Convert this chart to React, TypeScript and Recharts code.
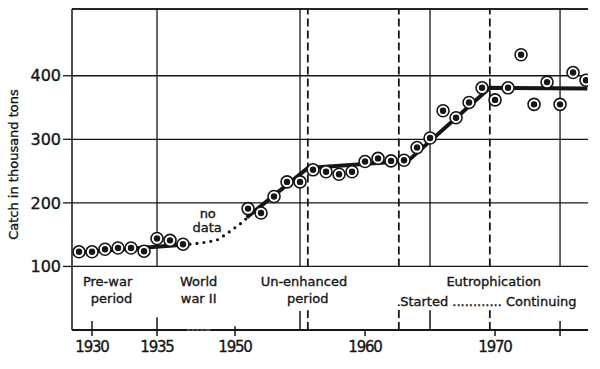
import {
  ComposedChart,
  Line,
  Scatter,
  XAxis,
  YAxis,
  CartesianGrid,
  ReferenceLine,
  ReferenceDot,
} from 'recharts';

// yearly catch, thousand tons
const preWarYears = [1929, 1930, 1931, 1932, 1933, 1934, 1935, 1936, 1937];
const preWarCatch = [123, 123, 127, 129, 129, 124, 144, 141, 135];
const postWarYears = [
  1951, 1952, 1953, 1954, 1955, 1956, 1957, 1958, 1959, 1960, 1961, 1962, 1963, 1964,
  1965, 1966, 1967, 1968, 1969, 1970, 1971, 1972, 1973, 1974, 1975, 1976, 1977,
];
const postWarCatch = [
  191, 184, 210, 233, 233, 252, 249, 245, 249, 265, 270, 266, 267, 287,
  302, 345, 334, 358, 381, 362, 381, 433, 355, 390, 355, 405, 393,
];

// fitted trend lines
const preWarTrendYears = [1929, 1937];
const preWarTrendCatch = [122, 134];
const postWarTrendYears = [1950.9, 1955.6, 1963.3, 1969.6, 1977.1];
const postWarTrendCatch = [177, 255, 266, 381, 380];

// dotted "no data" bridge, given in axis positions (it crosses the break)
const noDataPos = [1937, 1938, 1939, 1939.6, 1940, 1940.4, 1940.9, 1941.4, 1941.9];
const noDataCatch = [134, 136, 139, 141.5, 146.5, 152, 159.5, 167, 176];

const xLabelYears = [1930, 1935, 1950, 1960, 1970];
const xTickYears = [...xLabelYears, 1975];
const catchTicks = [100, 200, 300, 400];
const gridYears = [1935, 1955, 1965, 1975];
const periodBreaks = [1955.6, 1962.6, 1969.6];

// axis is broken between 1935 and 1950
const GAP = 9;
const toAxis = (year: number) => (year >= 1945 ? year - GAP : year);
const fromAxis = (pos: number) => (pos >= 1940 ? pos + GAP : pos);

const X_MIN = 1928.46;
const X_MAX = 1968.15;
const Y_MAX = 505;
const INK = '#161616';

const points = [
  ...preWarYears.map((y, i) => ({ u: toAxis(y), v: preWarCatch[i] })),
  ...postWarYears.map((y, i) => ({ u: toAxis(y), v: postWarCatch[i] })),
];
const preWarTrend = preWarTrendYears.map((y, i) => ({ u: toAxis(y), v: preWarTrendCatch[i] }));
const postWarTrend = postWarTrendYears.map((y, i) => ({ u: toAxis(y), v: postWarTrendCatch[i] }));
const noDataLine = noDataPos.map((p, i) => ({ u: p, v: noDataCatch[i] }));

const notes = [
  { year: 1931.2, v: 77, text: 'Pre-war' },
  { year: 1931.5, v: 49, text: 'period' },
  { year: 1938.2, v: 77, text: 'World' },
  { year: 1938.2, v: 49, text: 'war II' },
  { year: 1955.3, v: 77, text: 'Un-enhanced' },
  { year: 1955.6, v: 49, text: 'period' },
  { year: 1969.9, v: 76, text: 'Eutrophication' },
  { year: 1938.9, v: 184, text: 'no' },
  { year: 1938.85, v: 162, text: 'data' },
];

const textInk = { fill: INK, stroke: INK, strokeWidth: 0.35 };

function Ring(props: any) {
  const { cx, cy } = props;
  return (
    <g>
      <circle cx={cx} cy={cy} r={6} fill="#fff" stroke={INK} strokeWidth={1.6} />
      <circle cx={cx} cy={cy} r={3.2} fill={INK} />
    </g>
  );
}

function YLabel(props: any) {
  const vb = props.viewBox || { x: 0, y: 9, width: 72, height: 321 };
  const cx = vb.x + 13;
  const cy = vb.y + vb.height / 2 - 5;
  return (
    <text
      x={cx}
      y={cy}
      transform={`rotate(-90 ${cx} ${cy})`}
      textAnchor="middle"
      dominantBaseline="central"
      fontSize={13}
      {...textInk}
    >
      Catch in thousand tons
    </text>
  );
}

export default function App() {
  return (
    <div
      style={{
        position: 'absolute',
        left: 0,
        top: 0,
        width: 600,
        height: 369,
        background: '#fff',
        fontFamily: '"DejaVu Sans", sans-serif',
      }}
    >
      <ComposedChart width={600} height={369} margin={{ top: 9, right: 12, bottom: 0, left: 0 }}>
        <CartesianGrid vertical={false} stroke={INK} strokeWidth={1.3} />
        <XAxis
          type="number"
          dataKey="u"
          domain={[X_MIN, X_MAX]}
          allowDataOverflow
          ticks={xTickYears.map(toAxis)}
          tickFormatter={(p: number) => {
            const y = Math.round(fromAxis(p));
            return xLabelYears.includes(y) ? String(y) : '';
          }}
          height={39}
          tickSize={6}
          tickMargin={5}
          axisLine={false}
          tickLine={{ stroke: INK, strokeWidth: 1.5 }}
          tick={{ ...textInk, fontSize: 15, letterSpacing: -1.2 }}
        />
        <YAxis
          type="number"
          dataKey="v"
          domain={[0, Y_MAX]}
          allowDataOverflow
          ticks={catchTicks}
          width={72}
          tickSize={9}
          tickMargin={2}
          axisLine={{ stroke: INK, strokeWidth: 1.5 }}
          tickLine={{ stroke: INK, strokeWidth: 1.3 }}
          tick={{ ...textInk, fontSize: 16 }}
          label={{ content: YLabel }}
        />

        {/* frame top and broken baseline */}
        <ReferenceLine y={Y_MAX} stroke={INK} strokeWidth={1.4} />
        <ReferenceLine segment={[{ x: X_MIN, y: 0 }, { x: 1937.3, y: 0 }]} stroke={INK} strokeWidth={1.8} />
        <ReferenceLine
          segment={[{ x: 1937.6, y: 0 }, { x: 1938.95, y: 0 }]}
          stroke={INK}
          strokeWidth={2}
          strokeLinecap="round"
          strokeDasharray="0 4.5"
        />
        <ReferenceLine segment={[{ x: 1939.1, y: 0 }, { x: X_MAX, y: 0 }]} stroke={INK} strokeWidth={1.8} />

        {/* solid vertical grid, stops at the 100 line */}
        {gridYears.map((y) => (
          <ReferenceLine
            key={'g' + y}
            segment={[{ x: toAxis(y), y: 100 }, { x: toAxis(y), y: Y_MAX }]}
            stroke={INK}
            strokeWidth={1.3}
          />
        ))}
        {[
          [1930, 14],
          [1935, 20],
          [1950, 6],
          [1955, 30],
          [1965, 31],
          [1975, 14],
        ].map(([y, h]) => (
          <ReferenceLine
            key={'t' + y}
            segment={[{ x: toAxis(y), y: 0 }, { x: toAxis(y), y: h }]}
            stroke={INK}
            strokeWidth={1.5}
          />
        ))}

        {/* period boundaries, broken where the period names sit */}
        {periodBreaks.map((y, i) => (
          <ReferenceLine
            key={'p' + y}
            segment={[{ x: toAxis(y), y: 100 }, { x: toAxis(y), y: Y_MAX }]}
            stroke={INK}
            strokeWidth={1.8}
            strokeDasharray="8 4"
          />
        ))}
        {periodBreaks.map((y, i) => (
          <ReferenceLine
            key={'q' + y}
            segment={[{ x: toAxis(y), y: 0 }, { x: toAxis(y), y: i === 1 ? 40 : 31 }]}
            stroke={INK}
            strokeWidth={1.8}
            strokeDasharray="8 4"
          />
        ))}

        <Line
          data={noDataLine}
          dataKey="v"
          type="monotone"
          stroke={INK}
          strokeWidth={3.2}
          strokeLinecap="round"
          strokeDasharray="0 7"
          dot={false}
          activeDot={false}
          isAnimationActive={false}
        />
        <Line
          data={preWarTrend}
          dataKey="v"
          type="linear"
          stroke={INK}
          strokeWidth={4}
          dot={false}
          activeDot={false}
          isAnimationActive={false}
        />
        <Line
          data={postWarTrend}
          dataKey="v"
          type="linear"
          stroke={INK}
          strokeWidth={4}
          dot={false}
          activeDot={false}
          isAnimationActive={false}
        />
        <Scatter data={points} dataKey="v" shape={Ring} isAnimationActive={false} />

        {notes.map((n) => (
          <ReferenceDot
            key={n.text + n.v}
            x={toAxis(n.year)}
            y={n.v}
            r={1}
            shape={(p: any) => (
              <text
                x={p.cx}
                y={p.cy}
                textAnchor="middle"
                dominantBaseline="central"
                fontSize={13}
                {...textInk}
              >
                {n.text}
              </text>
            )}
          />
        ))}
        <ReferenceDot
          x={toAxis(1962.7)}
          y={44.5}
          r={1}
          shape={(p: any) => (
            <text x={p.cx} y={p.cy} textAnchor="start" dominantBaseline="central" fontSize={13} {...textInk}>
              Started ............ Continuing
            </text>
          )}
        />
      </ComposedChart>
    </div>
  );
}
